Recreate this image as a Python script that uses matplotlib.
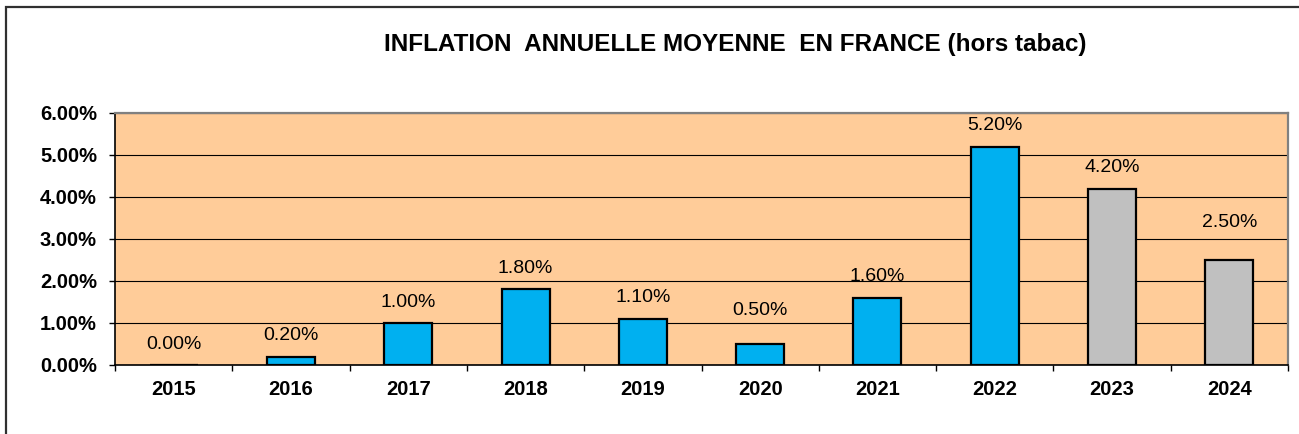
import matplotlib.pyplot as plt
from matplotlib.patches import Rectangle

# values (%)
years = ["2015", "2016", "2017", "2018", "2019", "2020", "2021", "2022", "2023", "2024"]
inflation = [0.0, 0.2, 1.0, 1.8, 1.1, 0.5, 1.6, 5.2, 4.2, 2.5]
estimated = [False, False, False, False, False, False, False, False, True, True]
y_ticks = [0, 1, 2, 3, 4, 5, 6]

# label offset above bar top, in points (some labels sit higher in the original)
label_pad = [15, 15, 15, 15, 15, 24, 15, 15, 15, 27]

plt.rcParams['font.family'] = ['Liberation Sans', 'DejaVu Sans']

fig = plt.figure(figsize=(12.99, 4.34), dpi=100)
ax = fig.add_axes([115 / 1299, 69 / 434, (1288 - 115) / 1299, (365 - 113) / 434])
ax.set_facecolor("#FFCC99")

colors = ["#C0C0C0" if e else "#00B0F0" for e in estimated]
xs = list(range(len(years)))
ax.bar(xs, inflation, width=0.41, color=colors, edgecolor="black", linewidth=1.6, zorder=3)

for x, v, p in zip(xs, inflation, label_pad):
    ax.annotate(f"{v:.2f}%", (x, v), xytext=(0, p), textcoords="offset points",
                ha="center", va="center", fontsize=14)

ax.set_xlim(-0.5, len(years) - 0.5)
ax.set_ylim(0, 6)
ax.set_yticks(y_ticks)
ax.set_yticklabels([f"{t:.2f}%" for t in y_ticks], fontsize=14.5, fontweight="bold")
ax.yaxis.grid(True, color="black", linewidth=0.8, zorder=1)
ax.set_axisbelow(True)

# category boundaries get tick marks, labels go in the middle
ax.set_xticks([i - 0.5 for i in range(len(years) + 1)])
ax.set_xticklabels([])
ax.set_xticks(xs, minor=True)
ax.set_xticklabels(years, minor=True, fontsize=14.5, fontweight="bold")
ax.tick_params(axis="x", which="major", length=4, width=1, direction="out")
ax.tick_params(axis="x", which="minor", length=0, pad=11)
ax.tick_params(axis="y", length=4, width=1, direction="out", pad=9)

for side in ["top", "right"]:
    ax.spines[side].set_color("#808080")
    ax.spines[side].set_linewidth(1.6)
for side in ["left", "bottom"]:
    ax.spines[side].set_color("black")
    ax.spines[side].set_linewidth(1.2)

fig.text(735 / 1299, 1 - 45 / 434, "INFLATION  ANNUELLE MOYENNE  EN FRANCE (hors tabac)",
         ha="center", va="center", fontsize=17.5, fontweight="bold")

# outer chart border (only top and left edges visible in the original)
fig.patches.append(Rectangle((6 / 1299, -0.1), 1.2, 1 - 7 / 434 + 0.1, transform=fig.transFigure,
                             fill=False, edgecolor="#303030", linewidth=1.6))

fig.savefig("out.png", dpi=100)
